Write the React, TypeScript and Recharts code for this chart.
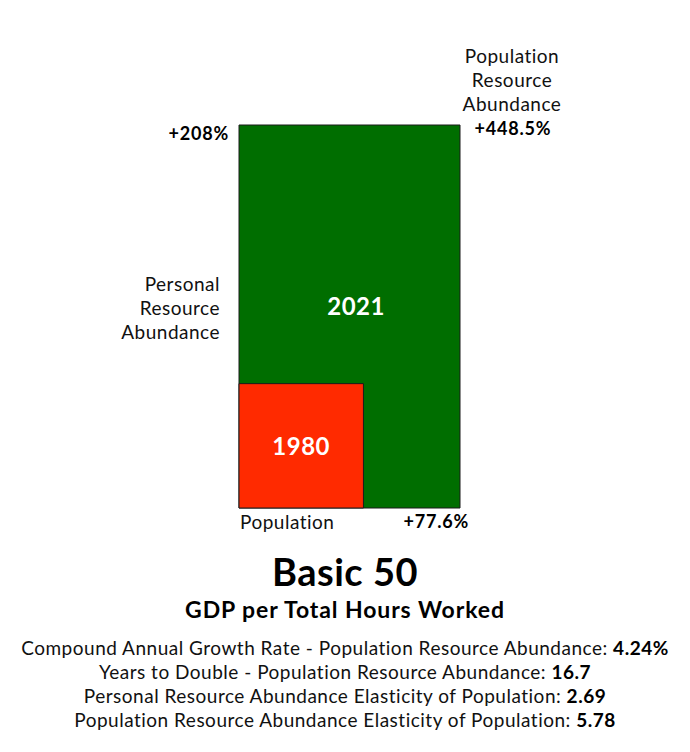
import React from 'react';
import { ComposedChart, XAxis, YAxis, ReferenceArea } from 'recharts';

// ratios 2021 / 1980
const populationRatio = 1.776;
const personalRatio = 3.08;
const baseRatio = 1;

const years = ['1980', '2021'];
const axisLabels = ['Population', 'Personal Resource Abundance', 'Population Resource Abundance'];
const changeLabels = ['+77.6%', '+208%', '+448.5%'];

const title = 'Basic 50';
const subtitle = 'GDP per Total Hours Worked';
const stats = [
  { label: 'Compound Annual Growth Rate - Population Resource Abundance: ', value: '4.24%' },
  { label: 'Years to Double - Population Resource Abundance: ', value: '16.7' },
  { label: 'Personal Resource Abundance Elasticity of Population: ', value: '2.69' },
  { label: 'Population Resource Abundance Elasticity of Population: ', value: '5.78' },
];

const FONT = 'Lato, "Open Sans", sans-serif';
const GREEN = '#006e00';
const RED = '#ff2a00';

const GreenLabels = (props: any) => {
  const { x, y, width, height } = props.viewBox;
  const right = x + width;
  const bottom = y + height;
  return (
    <g fontFamily={FONT}>
      <text x={x + width * 0.53} y={y + height * 0.47} textAnchor="middle" dominantBaseline="central"
        fill="#fff" fontSize={24} fontWeight={700} letterSpacing={0.5}>{years[1]}</text>
      <text x={x - 10} y={y + 8} textAnchor="end" dominantBaseline="central"
        fill="#000" fontSize={18} fontWeight={700} letterSpacing={0.8}>{changeLabels[1]}</text>
      {['Personal', 'Resource', 'Abundance'].map((w, i) => (
        <text key={w} x={x - 19} y={y + 158 + i * 24} textAnchor="end" dominantBaseline="central"
          fill="#111" fontSize={19} letterSpacing={0.5}>{w}</text>
      ))}
      <text x={x + 1} y={bottom + 13} textAnchor="start" dominantBaseline="central"
        fill="#111" fontSize={19} letterSpacing={0.5}>{axisLabels[0]}</text>
      <text x={right + 9} y={bottom + 13} textAnchor="end" dominantBaseline="central"
        fill="#000" fontSize={18} fontWeight={700} letterSpacing={0.8}>{changeLabels[0]}</text>
      {['Population', 'Resource', 'Abundance'].map((w, i) => (
        <text key={w + 'p'} x={right + 52} y={y - 70 + i * 24} textAnchor="middle" dominantBaseline="central"
          fill="#111" fontSize={19} letterSpacing={0.5}>{w}</text>
      ))}
      <text x={right + 53} y={y + 3} textAnchor="middle" dominantBaseline="central"
        fill="#000" fontSize={18} fontWeight={700} letterSpacing={0.8}>{changeLabels[2]}</text>
    </g>
  );
};

const RedLabel = (props: any) => {
  const { x, y, width, height } = props.viewBox;
  return (
    <text x={x + width / 2} y={y + height / 2} textAnchor="middle" dominantBaseline="central"
      fill="#fff" fontSize={24} fontWeight={700} letterSpacing={0.5} fontFamily={FONT}>{years[0]}</text>
  );
};

const App: React.FC = () => {
  return (
    <div style={{ position: 'absolute', left: 0, top: 0, width: 690, height: 752, background: '#fff', fontFamily: FONT }}>
      <ComposedChart width={690} height={545} data={[{ x: 0, y: 0 }]}
        margin={{ top: 125, right: 230, left: 239, bottom: 37 }}>
        <XAxis type="number" dataKey="x" domain={[0, populationRatio]} allowDataOverflow hide />
        <YAxis type="number" dataKey="y" domain={[0, personalRatio]} allowDataOverflow hide />
        <ReferenceArea x1={0} x2={populationRatio} y1={0} y2={personalRatio}
          fill={GREEN} fillOpacity={1} stroke="#1a1a1a" strokeWidth={1} ifOverflow="visible"
          label={<GreenLabels />} />
        <ReferenceArea x1={0} x2={baseRatio} y1={0} y2={baseRatio}
          fill={RED} fillOpacity={1} stroke="#1a1a1a" strokeWidth={1} ifOverflow="visible"
          label={<RedLabel />} />
      </ComposedChart>
      <div style={{ position: 'absolute', top: 548, left: 0, width: 690, textAlign: 'center', fontSize: 38, fontWeight: 700, color: '#000', lineHeight: '46px', letterSpacing: 0.5 }}>
        {title}
      </div>
      <div style={{ position: 'absolute', top: 595, left: 0, width: 690, textAlign: 'center', fontSize: 23, fontWeight: 700, color: '#000', lineHeight: '28px', letterSpacing: 0.9 }}>
        {subtitle}
      </div>
      <div style={{ position: 'absolute', top: 636, left: 0, width: 690, textAlign: 'center', fontSize: 19, color: '#111', lineHeight: '24px', letterSpacing: 0.5 }}>
        {stats.map((s) => (
          <div key={s.label}>
            {s.label}<b style={{ color: '#000' }}>{s.value}</b>
          </div>
        ))}
      </div>
    </div>
  );
};

export default App;
